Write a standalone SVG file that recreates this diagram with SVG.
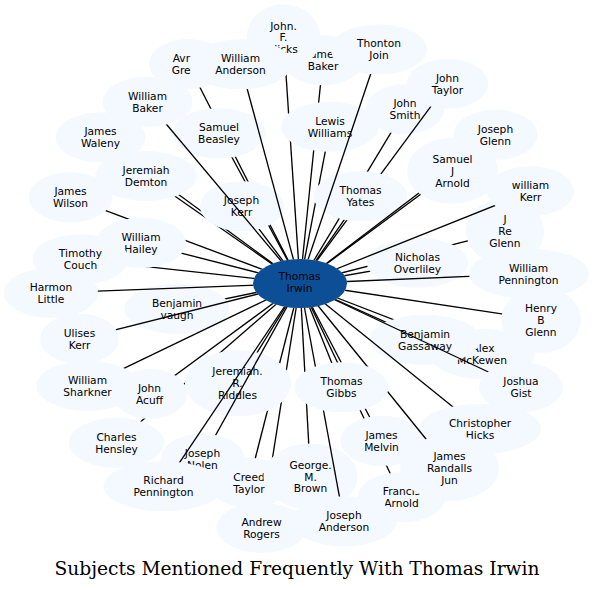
<svg xmlns="http://www.w3.org/2000/svg" xmlns:xlink="http://www.w3.org/1999/xlink" width="594" height="590" viewBox="0 0 594 590">
<style>
.nb{fill:#f4f8ff}
.cb{fill:#0c4f97}
.node text{font-family:"DejaVu Sans",Verdana,sans-serif;font-size:10.67px;fill:#000;text-anchor:middle}
#edges line{stroke:#000;stroke-width:1.33;fill:none}
.title{font-family:"DejaVu Serif","Liberation Serif",serif;font-size:18.67px;fill:#000;text-anchor:middle}
</style>
<defs>
<ellipse id="s-c" cx="300" cy="283.5" rx="47" ry="24.5"/>
<ellipse id="s-jbaker" cx="323" cy="60.3" rx="40" ry="25"/>
<ellipse id="s-hicks" cx="283.5" cy="37.3" rx="37" ry="33"/>
<ellipse id="s-avr" cx="188" cy="64" rx="39" ry="25"/>
<ellipse id="s-wanderson" cx="240.5" cy="64.3" rx="51" ry="25"/>
<ellipse id="s-thonton" cx="379" cy="49.3" rx="48" ry="25"/>
<ellipse id="s-wbaker" cx="147.5" cy="101.8" rx="45" ry="25"/>
<ellipse id="s-jtaylor" cx="447.5" cy="83.8" rx="40.6" ry="25"/>
<ellipse id="s-jsmith" cx="405" cy="109.3" rx="39" ry="25"/>
<ellipse id="s-sbeasley" cx="219" cy="133.3" rx="46.5" ry="25"/>
<ellipse id="s-lwilliams" cx="330" cy="126.8" rx="48.8" ry="25"/>
<ellipse id="s-jglenn" cx="495.5" cy="134.8" rx="42" ry="25"/>
<ellipse id="s-waleny" cx="100.5" cy="137.3" rx="45" ry="25"/>
<ellipse id="s-sjarnold" cx="452.5" cy="170.8" rx="45.4" ry="33"/>
<ellipse id="s-demton" cx="146" cy="176" rx="50.6" ry="25"/>
<ellipse id="s-tyates" cx="360.5" cy="196.3" rx="47" ry="25"/>
<ellipse id="s-wkerr" cx="530.5" cy="191.3" rx="43.6" ry="25"/>
<ellipse id="s-jwilson" cx="70.5" cy="197.3" rx="42" ry="25"/>
<ellipse id="s-jkerr" cx="242" cy="206.3" rx="42" ry="25"/>
<ellipse id="s-jreglenn" cx="505" cy="231.3" rx="39" ry="33"/>
<ellipse id="s-whailey" cx="141" cy="242.8" rx="45" ry="25"/>
<ellipse id="s-tcouch" cx="80.5" cy="259.3" rx="48" ry="25"/>
<ellipse id="s-noverliley" cx="417.5" cy="262.8" rx="50.6" ry="25"/>
<ellipse id="s-hlittle" cx="51" cy="292.8" rx="47" ry="25"/>
<ellipse id="s-wpennington" cx="529" cy="273.8" rx="60" ry="25"/>
<ellipse id="s-bvaugh" cx="177" cy="308.8" rx="52.6" ry="25"/>
<ellipse id="s-hbglenn" cx="541" cy="319.8" rx="39.7" ry="33"/>
<ellipse id="s-ukerr" cx="79.5" cy="338.8" rx="39.3" ry="25"/>
<ellipse id="s-amckewen" cx="482" cy="353.8" rx="53" ry="25"/>
<ellipse id="s-bgassaway" cx="425" cy="339.8" rx="55.3" ry="25"/>
<ellipse id="s-wsharkner" cx="87.5" cy="385.8" rx="51" ry="25"/>
<ellipse id="s-jacuff" cx="150" cy="393.8" rx="37" ry="25"/>
<ellipse id="s-riddles" cx="238" cy="383.3" rx="53" ry="33"/>
<ellipse id="s-tgibbs" cx="341.5" cy="387.3" rx="47" ry="25"/>
<ellipse id="s-jgist" cx="521" cy="387.3" rx="42" ry="25"/>
<ellipse id="s-chensley" cx="116.5" cy="442.8" rx="47.5" ry="25"/>
<ellipse id="s-jmelvin" cx="382" cy="440.8" rx="41.5" ry="25"/>
<ellipse id="s-chicks" cx="480" cy="428.8" rx="61" ry="25"/>
<ellipse id="s-ctaylor" cx="249" cy="482.8" rx="40.6" ry="25"/>
<ellipse id="s-jnolen" cx="202.5" cy="458.8" rx="42" ry="25"/>
<ellipse id="s-gbrown" cx="310.5" cy="476.5" rx="47" ry="33"/>
<ellipse id="s-farnold" cx="401.5" cy="497.3" rx="44" ry="25"/>
<ellipse id="s-jrandalls" cx="449.5" cy="468" rx="49.3" ry="33"/>
<ellipse id="s-rpennington" cx="163.5" cy="486.3" rx="60" ry="25"/>
<ellipse id="s-arogers" cx="261.5" cy="527.8" rx="45" ry="25"/>
<ellipse id="s-janderson" cx="344" cy="521.3" rx="53" ry="25"/>
<g id="mb"><rect x="0" y="0" width="594" height="590" fill="#fff"/><use href="#s-c"/></g>
<mask id="m-jbaker" maskUnits="userSpaceOnUse" x="0" y="0" width="594" height="590"><use href="#mb"/><use href="#s-jbaker"/><use href="#s-lwilliams"/></mask>
<mask id="m-hicks" maskUnits="userSpaceOnUse" x="0" y="0" width="594" height="590"><use href="#mb"/><use href="#s-hicks"/><use href="#s-wanderson"/><use href="#s-jbaker"/><use href="#s-lwilliams"/></mask>
<mask id="m-avr" maskUnits="userSpaceOnUse" x="0" y="0" width="594" height="590"><use href="#mb"/><use href="#s-avr"/><use href="#s-sbeasley"/><use href="#s-jkerr"/></mask>
<mask id="m-wanderson" maskUnits="userSpaceOnUse" x="0" y="0" width="594" height="590"><use href="#mb"/><use href="#s-wanderson"/></mask>
<mask id="m-thonton" maskUnits="userSpaceOnUse" x="0" y="0" width="594" height="590"><use href="#mb"/><use href="#s-thonton"/></mask>
<mask id="m-wbaker" maskUnits="userSpaceOnUse" x="0" y="0" width="594" height="590"><use href="#mb"/><use href="#s-wbaker"/></mask>
<mask id="m-jtaylor" maskUnits="userSpaceOnUse" x="0" y="0" width="594" height="590"><use href="#mb"/><use href="#s-jtaylor"/><use href="#s-tyates"/></mask>
<mask id="m-jsmith" maskUnits="userSpaceOnUse" x="0" y="0" width="594" height="590"><use href="#mb"/><use href="#s-jsmith"/><use href="#s-tyates"/></mask>
<mask id="m-sbeasley" maskUnits="userSpaceOnUse" x="0" y="0" width="594" height="590"><use href="#mb"/><use href="#s-sbeasley"/><use href="#s-jkerr"/></mask>
<mask id="m-lwilliams" maskUnits="userSpaceOnUse" x="0" y="0" width="594" height="590"><use href="#mb"/><use href="#s-lwilliams"/><use href="#s-tyates"/></mask>
<mask id="m-jglenn" maskUnits="userSpaceOnUse" x="0" y="0" width="594" height="590"><use href="#mb"/><use href="#s-jglenn"/><use href="#s-sjarnold"/></mask>
<mask id="m-waleny" maskUnits="userSpaceOnUse" x="0" y="0" width="594" height="590"><use href="#mb"/><use href="#s-waleny"/><use href="#s-demton"/><use href="#s-jkerr"/></mask>
<mask id="m-sjarnold" maskUnits="userSpaceOnUse" x="0" y="0" width="594" height="590"><use href="#mb"/><use href="#s-sjarnold"/></mask>
<mask id="m-demton" maskUnits="userSpaceOnUse" x="0" y="0" width="594" height="590"><use href="#mb"/><use href="#s-demton"/><use href="#s-jkerr"/></mask>
<mask id="m-tyates" maskUnits="userSpaceOnUse" x="0" y="0" width="594" height="590"><use href="#mb"/><use href="#s-tyates"/></mask>
<mask id="m-wkerr" maskUnits="userSpaceOnUse" x="0" y="0" width="594" height="590"><use href="#mb"/><use href="#s-wkerr"/></mask>
<mask id="m-jwilson" maskUnits="userSpaceOnUse" x="0" y="0" width="594" height="590"><use href="#mb"/><use href="#s-jwilson"/><use href="#s-whailey"/></mask>
<mask id="m-jkerr" maskUnits="userSpaceOnUse" x="0" y="0" width="594" height="590"><use href="#mb"/><use href="#s-jkerr"/></mask>
<mask id="m-jreglenn" maskUnits="userSpaceOnUse" x="0" y="0" width="594" height="590"><use href="#mb"/><use href="#s-jreglenn"/><use href="#s-noverliley"/></mask>
<mask id="m-whailey" maskUnits="userSpaceOnUse" x="0" y="0" width="594" height="590"><use href="#mb"/><use href="#s-whailey"/></mask>
<mask id="m-tcouch" maskUnits="userSpaceOnUse" x="0" y="0" width="594" height="590"><use href="#mb"/><use href="#s-tcouch"/><use href="#s-whailey"/></mask>
<mask id="m-noverliley" maskUnits="userSpaceOnUse" x="0" y="0" width="594" height="590"><use href="#mb"/><use href="#s-noverliley"/></mask>
<mask id="m-hlittle" maskUnits="userSpaceOnUse" x="0" y="0" width="594" height="590"><use href="#mb"/><use href="#s-hlittle"/></mask>
<mask id="m-wpennington" maskUnits="userSpaceOnUse" x="0" y="0" width="594" height="590"><use href="#mb"/><use href="#s-wpennington"/></mask>
<mask id="m-bvaugh" maskUnits="userSpaceOnUse" x="0" y="0" width="594" height="590"><use href="#mb"/><use href="#s-bvaugh"/></mask>
<mask id="m-hbglenn" maskUnits="userSpaceOnUse" x="0" y="0" width="594" height="590"><use href="#mb"/><use href="#s-hbglenn"/></mask>
<mask id="m-ukerr" maskUnits="userSpaceOnUse" x="0" y="0" width="594" height="590"><use href="#mb"/><use href="#s-ukerr"/></mask>
<mask id="m-amckewen" maskUnits="userSpaceOnUse" x="0" y="0" width="594" height="590"><use href="#mb"/><use href="#s-amckewen"/><use href="#s-bgassaway"/></mask>
<mask id="m-bgassaway" maskUnits="userSpaceOnUse" x="0" y="0" width="594" height="590"><use href="#mb"/><use href="#s-bgassaway"/></mask>
<mask id="m-wsharkner" maskUnits="userSpaceOnUse" x="0" y="0" width="594" height="590"><use href="#mb"/><use href="#s-wsharkner"/></mask>
<mask id="m-jacuff" maskUnits="userSpaceOnUse" x="0" y="0" width="594" height="590"><use href="#mb"/><use href="#s-jacuff"/></mask>
<mask id="m-riddles" maskUnits="userSpaceOnUse" x="0" y="0" width="594" height="590"><use href="#mb"/><use href="#s-riddles"/></mask>
<mask id="m-tgibbs" maskUnits="userSpaceOnUse" x="0" y="0" width="594" height="590"><use href="#mb"/><use href="#s-tgibbs"/></mask>
<mask id="m-jgist" maskUnits="userSpaceOnUse" x="0" y="0" width="594" height="590"><use href="#mb"/><use href="#s-jgist"/></mask>
<mask id="m-chensley" maskUnits="userSpaceOnUse" x="0" y="0" width="594" height="590"><use href="#mb"/><use href="#s-chensley"/><use href="#s-riddles"/><use href="#s-jacuff"/></mask>
<mask id="m-jmelvin" maskUnits="userSpaceOnUse" x="0" y="0" width="594" height="590"><use href="#mb"/><use href="#s-jmelvin"/><use href="#s-tgibbs"/></mask>
<mask id="m-chicks" maskUnits="userSpaceOnUse" x="0" y="0" width="594" height="590"><use href="#mb"/><use href="#s-chicks"/></mask>
<mask id="m-ctaylor" maskUnits="userSpaceOnUse" x="0" y="0" width="594" height="590"><use href="#mb"/><use href="#s-ctaylor"/><use href="#s-riddles"/></mask>
<mask id="m-jnolen" maskUnits="userSpaceOnUse" x="0" y="0" width="594" height="590"><use href="#mb"/><use href="#s-jnolen"/></mask>
<mask id="m-gbrown" maskUnits="userSpaceOnUse" x="0" y="0" width="594" height="590"><use href="#mb"/><use href="#s-gbrown"/><use href="#s-tgibbs"/></mask>
<mask id="m-farnold" maskUnits="userSpaceOnUse" x="0" y="0" width="594" height="590"><use href="#mb"/><use href="#s-farnold"/><use href="#s-tgibbs"/><use href="#s-jmelvin"/></mask>
<mask id="m-jrandalls" maskUnits="userSpaceOnUse" x="0" y="0" width="594" height="590"><use href="#mb"/><use href="#s-jrandalls"/><use href="#s-tgibbs"/></mask>
<mask id="m-rpennington" maskUnits="userSpaceOnUse" x="0" y="0" width="594" height="590"><use href="#mb"/><use href="#s-rpennington"/></mask>
<mask id="m-arogers" maskUnits="userSpaceOnUse" x="0" y="0" width="594" height="590"><use href="#mb"/><use href="#s-arogers"/><use href="#s-riddles"/><use href="#s-gbrown"/><use href="#s-ctaylor"/></mask>
<mask id="m-janderson" maskUnits="userSpaceOnUse" x="0" y="0" width="594" height="590"><use href="#mb"/><use href="#s-janderson"/><use href="#s-tgibbs"/></mask>
</defs>
<rect x="0" y="0" width="594" height="590" fill="#fff"/>
<g id="nodes">
<g id="jbaker" class="node"><use href="#s-jbaker" class="nb"/><text><tspan x="323" y="58">James</tspan><tspan x="323" y="70">Baker</tspan></text></g>
<g id="hicks" class="node"><use href="#s-hicks" class="nb"/><text><tspan x="283.5" y="29.5">John.</tspan><tspan x="283.5" y="41">F.</tspan><tspan x="283.5" y="52.5">Hicks</tspan></text></g>
<g id="avr" class="node"><use href="#s-avr" class="nb"/><text style="text-anchor:start"><tspan x="172.7" y="62">Avr</tspan><tspan x="171.7" y="73.5">Gre</tspan></text></g>
<g id="wanderson" class="node"><use href="#s-wanderson" class="nb"/><text><tspan x="240.5" y="62">William</tspan><tspan x="240.5" y="74">Anderson</tspan></text></g>
<g id="thonton" class="node"><use href="#s-thonton" class="nb"/><text><tspan x="379" y="47">Thonton</tspan><tspan x="379" y="59">Join</tspan></text></g>
<g id="wbaker" class="node"><use href="#s-wbaker" class="nb"/><text><tspan x="147.5" y="99.5">William</tspan><tspan x="147.5" y="111.5">Baker</tspan></text></g>
<g id="jtaylor" class="node"><use href="#s-jtaylor" class="nb"/><text><tspan x="447.5" y="81.5">John</tspan><tspan x="447.5" y="93.5">Taylor</tspan></text></g>
<g id="jsmith" class="node"><use href="#s-jsmith" class="nb"/><text><tspan x="405" y="107">John</tspan><tspan x="405" y="119">Smith</tspan></text></g>
<g id="sbeasley" class="node"><use href="#s-sbeasley" class="nb"/><text><tspan x="219" y="131">Samuel</tspan><tspan x="219" y="143">Beasley</tspan></text></g>
<g id="lwilliams" class="node"><use href="#s-lwilliams" class="nb"/><text><tspan x="330" y="124.5">Lewis</tspan><tspan x="330" y="136.5">Williams</tspan></text></g>
<g id="jglenn" class="node"><use href="#s-jglenn" class="nb"/><text><tspan x="495.5" y="132.5">Joseph</tspan><tspan x="495.5" y="144.5">Glenn</tspan></text></g>
<g id="waleny" class="node"><use href="#s-waleny" class="nb"/><text><tspan x="100.5" y="135">James</tspan><tspan x="100.5" y="147">Waleny</tspan></text></g>
<g id="sjarnold" class="node"><use href="#s-sjarnold" class="nb"/><text><tspan x="452.5" y="162.5">Samuel</tspan><tspan x="452.5" y="174.5">J</tspan><tspan x="452.5" y="186.5">Arnold</tspan></text></g>
<g id="demton" class="node"><use href="#s-demton" class="nb"/><text><tspan x="146" y="174">Jeremiah</tspan><tspan x="146" y="185.5">Demton</tspan></text></g>
<g id="tyates" class="node"><use href="#s-tyates" class="nb"/><text><tspan x="360.5" y="194">Thomas</tspan><tspan x="360.5" y="206">Yates</tspan></text></g>
<g id="wkerr" class="node"><use href="#s-wkerr" class="nb"/><text><tspan x="530.5" y="189">william</tspan><tspan x="530.5" y="201">Kerr</tspan></text></g>
<g id="jwilson" class="node"><use href="#s-jwilson" class="nb"/><text><tspan x="70.5" y="195">James</tspan><tspan x="70.5" y="207">Wilson</tspan></text></g>
<g id="jkerr" class="node"><use href="#s-jkerr" class="nb"/><text><tspan x="241.5" y="204">Joseph</tspan><tspan x="241.5" y="215.5">Kerr</tspan></text></g>
<g id="jreglenn" class="node"><use href="#s-jreglenn" class="nb"/><text><tspan x="505" y="223">J</tspan><tspan x="505" y="235">Re</tspan><tspan x="505" y="247">Glenn</tspan></text></g>
<g id="whailey" class="node"><use href="#s-whailey" class="nb"/><text><tspan x="141" y="240.5">William</tspan><tspan x="141" y="252.5">Hailey</tspan></text></g>
<g id="tcouch" class="node"><use href="#s-tcouch" class="nb"/><text><tspan x="80.5" y="257">Timothy</tspan><tspan x="80.5" y="269">Couch</tspan></text></g>
<g id="noverliley" class="node"><use href="#s-noverliley" class="nb"/><text><tspan x="417.5" y="260.5">Nicholas</tspan><tspan x="417.5" y="272.5">Overliley</tspan></text></g>
<g id="hlittle" class="node"><use href="#s-hlittle" class="nb"/><text><tspan x="51" y="290.5">Harmon</tspan><tspan x="51" y="302.5">Little</tspan></text></g>
<g id="wpennington" class="node"><use href="#s-wpennington" class="nb"/><text><tspan x="528.5" y="271.5">William</tspan><tspan x="528.5" y="283.5">Pennington</tspan></text></g>
<g id="bvaugh" class="node"><use href="#s-bvaugh" class="nb"/><text><tspan x="177" y="306.5">Benjamin</tspan><tspan x="177" y="318.5">vaugh</tspan></text></g>
<g id="hbglenn" class="node"><use href="#s-hbglenn" class="nb"/><text><tspan x="541" y="311.5">Henry</tspan><tspan x="541" y="323.5">B</tspan><tspan x="541" y="335.5">Glenn</tspan></text></g>
<g id="ukerr" class="node"><use href="#s-ukerr" class="nb"/><text><tspan x="79.5" y="336.5">Ulises</tspan><tspan x="79.5" y="348.5">Kerr</tspan></text></g>
<g id="amckewen" class="node"><use href="#s-amckewen" class="nb"/><text><tspan x="483" y="351.5">Alex</tspan><tspan x="482" y="363.5">McKewen</tspan></text></g>
<g id="bgassaway" class="node"><use href="#s-bgassaway" class="nb"/><text><tspan x="425" y="337.5">Benjamin</tspan><tspan x="425" y="349.5">Gassaway</tspan></text></g>
<g id="wsharkner" class="node"><use href="#s-wsharkner" class="nb"/><text><tspan x="87.5" y="383.5">William</tspan><tspan x="87.5" y="395.5">Sharkner</tspan></text></g>
<g id="jacuff" class="node"><use href="#s-jacuff" class="nb"/><text><tspan x="149.5" y="391.5">John</tspan><tspan x="149.5" y="403.5">Acuff</tspan></text></g>
<g id="riddles" class="node"><use href="#s-riddles" class="nb"/><text><tspan x="237.5" y="375">Jeremiah.</tspan><tspan x="237.5" y="387">R.</tspan><tspan x="237.5" y="399">Riddles</tspan></text></g>
<g id="tgibbs" class="node"><use href="#s-tgibbs" class="nb"/><text><tspan x="341.5" y="385">Thomas</tspan><tspan x="341.5" y="397">Gibbs</tspan></text></g>
<g id="jgist" class="node"><use href="#s-jgist" class="nb"/><text><tspan x="521" y="385">Joshua</tspan><tspan x="521" y="397">Gist</tspan></text></g>
<g id="chensley" class="node"><use href="#s-chensley" class="nb"/><text><tspan x="116.5" y="440.5">Charles</tspan><tspan x="116.5" y="452.5">Hensley</tspan></text></g>
<g id="jmelvin" class="node"><use href="#s-jmelvin" class="nb"/><text><tspan x="381.5" y="438.5">James</tspan><tspan x="381.5" y="450.5">Melvin</tspan></text></g>
<g id="chicks" class="node"><use href="#s-chicks" class="nb"/><text><tspan x="480" y="426.5">Christopher</tspan><tspan x="480" y="438.5">Hicks</tspan></text></g>
<g id="ctaylor" class="node"><use href="#s-ctaylor" class="nb"/><text><tspan x="249" y="480.5">Creed</tspan><tspan x="249" y="492.5">Taylor</tspan></text></g>
<g id="jnolen" class="node"><use href="#s-jnolen" class="nb"/><text><tspan x="202.5" y="456.5">Joseph</tspan><tspan x="202.5" y="468.5">Nolen</tspan></text></g>
<g id="gbrown" class="node"><use href="#s-gbrown" class="nb"/><text><tspan x="310.5" y="468.5">George.</tspan><tspan x="310.5" y="480.5">M.</tspan><tspan x="310.5" y="492">Brown</tspan></text></g>
<g id="farnold" class="node"><use href="#s-farnold" class="nb"/><text><tspan x="401.5" y="495">Francis</tspan><tspan x="401.5" y="507">Arnold</tspan></text></g>
<g id="jrandalls" class="node"><use href="#s-jrandalls" class="nb"/><text><tspan x="449.5" y="460">James</tspan><tspan x="449.5" y="472">Randalls</tspan><tspan x="449.5" y="483.5">Jun</tspan></text></g>
<g id="rpennington" class="node"><use href="#s-rpennington" class="nb"/><text><tspan x="163.5" y="484">Richard</tspan><tspan x="163.5" y="496">Pennington</tspan></text></g>
<g id="arogers" class="node"><use href="#s-arogers" class="nb"/><text><tspan x="261.5" y="525.5">Andrew</tspan><tspan x="261.5" y="537.5">Rogers</tspan></text></g>
<g id="janderson" class="node"><use href="#s-janderson" class="nb"/><text><tspan x="344" y="519">Joseph</tspan><tspan x="344" y="531">Anderson</tspan></text></g>
<g id="tirwin" class="node"><use href="#s-c" class="cb"/><text><tspan x="299.5" y="279.5">Thomas</tspan><tspan x="299.5" y="291.5">Irwin</tspan></text></g>
</g>
<g id="edges">
<line x1="300" y1="283.5" x2="323" y2="60.3" mask="url(#m-jbaker)"/>
<line x1="300" y1="283.5" x2="283.5" y2="37.3" mask="url(#m-hicks)"/>
<line x1="300" y1="283.5" x2="188" y2="64" mask="url(#m-avr)"/>
<line x1="300" y1="283.5" x2="240.5" y2="64.3" mask="url(#m-wanderson)"/>
<line x1="300" y1="283.5" x2="379" y2="49.3" mask="url(#m-thonton)"/>
<line x1="300" y1="283.5" x2="147.5" y2="101.8" mask="url(#m-wbaker)"/>
<line x1="300" y1="283.5" x2="447.5" y2="83.8" mask="url(#m-jtaylor)"/>
<line x1="300" y1="283.5" x2="405" y2="109.3" mask="url(#m-jsmith)"/>
<line x1="300" y1="283.5" x2="219" y2="133.3" mask="url(#m-sbeasley)"/>
<line x1="300" y1="283.5" x2="330" y2="126.8" mask="url(#m-lwilliams)"/>
<line x1="300" y1="283.5" x2="495.5" y2="134.8" mask="url(#m-jglenn)"/>
<line x1="300" y1="283.5" x2="100.5" y2="137.3" mask="url(#m-waleny)"/>
<line x1="300" y1="283.5" x2="452.5" y2="170.8" mask="url(#m-sjarnold)"/>
<line x1="300" y1="283.5" x2="146" y2="176" mask="url(#m-demton)"/>
<line x1="300" y1="283.5" x2="360.5" y2="196.3" mask="url(#m-tyates)"/>
<line x1="300" y1="283.5" x2="530.5" y2="191.3" mask="url(#m-wkerr)"/>
<line x1="300" y1="283.5" x2="70.5" y2="197.3" mask="url(#m-jwilson)"/>
<line x1="300" y1="283.5" x2="242" y2="206.3" mask="url(#m-jkerr)"/>
<line x1="300" y1="283.5" x2="505" y2="231.3" mask="url(#m-jreglenn)"/>
<line x1="300" y1="283.5" x2="141" y2="242.8" mask="url(#m-whailey)"/>
<line x1="300" y1="283.5" x2="80.5" y2="259.3" mask="url(#m-tcouch)"/>
<line x1="300" y1="283.5" x2="417.5" y2="262.8" mask="url(#m-noverliley)"/>
<line x1="300" y1="283.5" x2="51" y2="292.8" mask="url(#m-hlittle)"/>
<line x1="300" y1="283.5" x2="529" y2="273.8" mask="url(#m-wpennington)"/>
<line x1="300" y1="283.5" x2="177" y2="308.8" mask="url(#m-bvaugh)"/>
<line x1="300" y1="283.5" x2="541" y2="319.8" mask="url(#m-hbglenn)"/>
<line x1="300" y1="283.5" x2="79.5" y2="338.8" mask="url(#m-ukerr)"/>
<line x1="300" y1="283.5" x2="482" y2="353.8" mask="url(#m-amckewen)"/>
<line x1="300" y1="283.5" x2="425" y2="339.8" mask="url(#m-bgassaway)"/>
<line x1="300" y1="283.5" x2="87.5" y2="385.8" mask="url(#m-wsharkner)"/>
<line x1="300" y1="283.5" x2="150" y2="393.8" mask="url(#m-jacuff)"/>
<line x1="300" y1="283.5" x2="238" y2="383.3" mask="url(#m-riddles)"/>
<line x1="300" y1="283.5" x2="341.5" y2="387.3" mask="url(#m-tgibbs)"/>
<line x1="300" y1="283.5" x2="521" y2="387.3" mask="url(#m-jgist)"/>
<line x1="300" y1="283.5" x2="116.5" y2="442.8" mask="url(#m-chensley)"/>
<line x1="300" y1="283.5" x2="382" y2="440.8" mask="url(#m-jmelvin)"/>
<line x1="300" y1="283.5" x2="480" y2="428.8" mask="url(#m-chicks)"/>
<line x1="300" y1="283.5" x2="249" y2="482.8" mask="url(#m-ctaylor)"/>
<line x1="300" y1="283.5" x2="202.5" y2="458.8" mask="url(#m-jnolen)"/>
<line x1="300" y1="283.5" x2="310.5" y2="476.5" mask="url(#m-gbrown)"/>
<line x1="300" y1="283.5" x2="401.5" y2="497.3" mask="url(#m-farnold)"/>
<line x1="300" y1="283.5" x2="449.5" y2="468" mask="url(#m-jrandalls)"/>
<line x1="300" y1="283.5" x2="163.5" y2="486.3" mask="url(#m-rpennington)"/>
<line x1="300" y1="283.5" x2="261.5" y2="527.8" mask="url(#m-arogers)"/>
<line x1="300" y1="283.5" x2="344" y2="521.3" mask="url(#m-janderson)"/>
</g>
<text class="title" x="297" y="575">Subjects Mentioned Frequently With Thomas Irwin</text>
</svg>
